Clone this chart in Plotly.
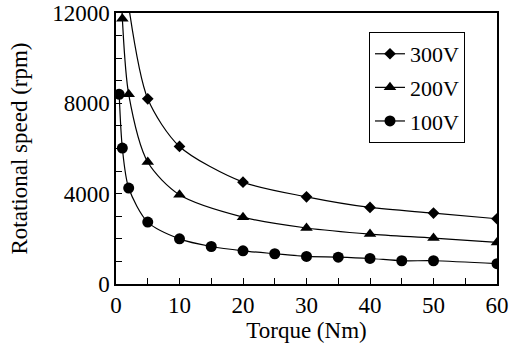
import plotly.graph_objects as go

# Torque (Nm) and rotational speed (rpm)
torque_300 = [2, 5, 10, 20, 30, 40, 50, 60]
speed_300 = [12300, 8200, 6090, 4510, 3860, 3390, 3140, 2890]

torque_200 = [0.5, 1, 2, 5, 10, 20, 30, 40, 50, 60]
speed_200 = [16000, 11750, 8400, 5400, 3950, 2960, 2480, 2210, 2035, 1840]

torque_100 = [0.5, 1, 2, 5, 10, 15, 20, 25, 30, 35, 40, 45, 50, 60]
speed_100 = [8400, 6020, 4250, 2740, 2000, 1660, 1470, 1340, 1220, 1190, 1130, 1030, 1030, 900]

series = [
    ("300V", torque_300, speed_300, "diamond", 9),
    ("200V", torque_200, speed_200, "triangle-up", 11),
    ("100V", torque_100, speed_100, "circle", 11),
]

FONT = "Liberation Serif"

fig = go.Figure()
for i, (name, xs, ys, sym, sz) in enumerate(series):
    fig.add_trace(go.Scatter(
        x=xs, y=ys, name=name, mode="lines+markers",
        line=dict(color="black", width=1.2, shape="spline", smoothing=0.8),
        marker=dict(symbol=sym, size=sz, color="black"),
        legendgroup=f"g{i}",
        cliponaxis=True,
    ))

axis_common = dict(
    showline=True, linecolor="black", linewidth=1.5, mirror=True,
    ticks="inside", ticklen=6, tickcolor="black", tickwidth=1,
    showgrid=False, zeroline=False, automargin=False,
    ticklabeloverflow="allow",
    tickfont=dict(family=FONT, size=23, color="black"),
)

fig.update_xaxes(
    range=[0, 60], dtick=10, tick0=0,
    minor=dict(dtick=5, ticks="inside", ticklen=6, tickcolor="black"),
    title=dict(text="Torque (Nm)", font=dict(family=FONT, size=23, color="black"), standoff=5),
    **axis_common,
)
fig.update_yaxes(
    range=[0, 12000], dtick=4000, tick0=0, tickformat="d",
    minor=dict(dtick=1000, ticks="inside", ticklen=6, tickcolor="black"),
    title=dict(text="Rotational speed (rpm)", font=dict(family=FONT, size=23, color="black"), standoff=18),
    **axis_common,
)

fig.update_layout(
    width=514, height=347,
    margin=dict(l=116, r=17, t=13, b=63),
    paper_bgcolor="white", plot_bgcolor="white",
    font=dict(family=FONT, color="black"),
    legend=dict(
        x=0.664, y=0.93, xanchor="left", yanchor="top",
        bordercolor="black", borderwidth=1, bgcolor="white",
        font=dict(family=FONT, size=22, color="black"),
        tracegroupgap=2,
    ),
)

fig.write_html(
    "out.html",
    config={"displayModeBar": False},
    post_script="document.body.style.margin='0';document.body.style.overflow='hidden';",
)
